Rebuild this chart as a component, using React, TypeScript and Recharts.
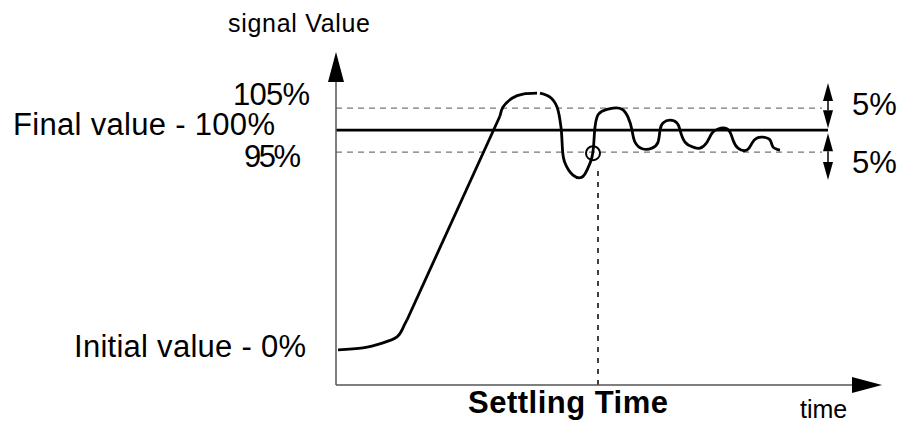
import { Line, LineChart, ReferenceDot, ReferenceLine, XAxis, YAxis } from "recharts"

// time runs 0..546, signal in % of final value (band drawn schematically at +/-10)
const levelTicks = [0, 90, 100, 110]
const levelNames = ["Initial value - 0%", "95%", "Final value - 100%", "105%"]

const bandTop = 110
const finalValue = 100
const bandBottom = 90

const riseStart = [
  { t: 2, v: 0 },
  { t: 27, v: 0.9 },
  { t: 47, v: 3.2 },
  { t: 61, v: 5.9 },
  { t: 67, v: 10 },
  { t: 71, v: 13.6 },
]

const riseRamp = [
  { t: 71, v: 13.6 },
  { t: 164, v: 106.4 },
]

const overshootArc = [
  { t: 164, v: 106.4 },
  { t: 167, v: 110.5 },
  { t: 176, v: 114.5 },
  { t: 187, v: 116.4 },
  { t: 201, v: 116.8 },
]

const ringing = [
  { t: 204, v: 116.8 },
  { t: 214, v: 115 },
  { t: 221, v: 110.5 },
  { t: 224, v: 104.5 },
  { t: 225.5, v: 99 },
  { t: 226.5, v: 91 },
  { t: 229, v: 85 },
  { t: 237, v: 79.5 },
  { t: 246, v: 78.6 },
  { t: 251, v: 81.8 },
  { t: 256, v: 87.7 },
  { t: 258, v: 95.5 },
  { t: 259, v: 101.4 },
  { t: 261, v: 105.9 },
  { t: 266, v: 108.6 },
  { t: 277, v: 110 },
  { t: 286, v: 109.5 },
  { t: 292, v: 105.9 },
  { t: 296, v: 100 },
  { t: 299, v: 94.5 },
  { t: 307, v: 91.4 },
  { t: 316, v: 91.8 },
  { t: 322, v: 94.5 },
  { t: 324, v: 100 },
  { t: 327, v: 103.2 },
  { t: 334, v: 104.5 },
  { t: 341, v: 103.2 },
  { t: 344, v: 100 },
  { t: 349, v: 94.5 },
  { t: 357, v: 92.3 },
  { t: 364, v: 91.8 },
  { t: 371, v: 94.5 },
  { t: 376, v: 98.6 },
  { t: 382, v: 100.5 },
  { t: 389, v: 100.9 },
  { t: 394, v: 99.1 },
  { t: 397, v: 95.5 },
  { t: 402, v: 91.8 },
  { t: 411, v: 90.9 },
  { t: 416, v: 94.1 },
  { t: 421, v: 96.4 },
  { t: 427, v: 96.8 },
  { t: 434, v: 95.5 },
  { t: 437, v: 92.3 },
  { t: 444, v: 90.9 },
]

const settlingTime = 262
const crossing = { t: 257, v: 89.5 }
const bandEnd = 486
const markerT = 492

const font = "'Liberation Sans', Arial, Helvetica, sans-serif"

// right edge / baseline shift / width for each level label
const tickStyle: Record<number, { right: number; dy: number; len: number }> = {
  0: { right: 306, dy: 7, len: 232 },
  90: { right: 301, dy: 15, len: 57 },
  100: { right: 275, dy: 5, len: 262 },
  110: { right: 310, dy: -3, len: 77 },
}

function levelLabel(value: number) {
  const s = tickStyle[value]
  const name = levelNames[levelTicks.indexOf(value)]
  return (p: any) => (
    <text
      x={s.right}
      y={p.viewBox.y + s.dy}
      textAnchor="end"
      fontFamily={font}
      fontSize={31}
      fill="#000"
      textLength={s.len}
    >
      {name}
    </text>
  )
}

function Arrow(props: any) {
  const { x1, y1, x2, y2, head = 30, half = 8, both = false, color = "#555", width = 1.5 } = props
  const len = Math.hypot(x2 - x1, y2 - y1) || 1
  const ux = (x2 - x1) / len
  const uy = (y2 - y1) / len
  const px = -uy
  const py = ux
  const tri = (tx: number, ty: number, dir: number) => {
    const bx = tx - ux * head * dir
    const by = ty - uy * head * dir
    return `${tx},${ty} ${bx + px * half},${by + py * half} ${bx - px * half},${by - py * half}`
  }
  const sx = both ? x1 + ux * head : x1
  const sy = both ? y1 + uy * head : y1
  return (
    <g>
      <line x1={sx} y1={sy} x2={x2 - ux * head} y2={y2 - uy * head} stroke={color} strokeWidth={width} />
      <polygon points={tri(x2, y2, 1)} fill="#000" />
      {both && <polygon points={tri(x1, y1, -1)} fill="#000" />}
    </g>
  )
}

export default function App() {
  return (
    <div style={{ position: "fixed", left: 0, top: 0, width: 901, height: 423, background: "#fff" }}>
      <LineChart width={901} height={423} margin={{ top: 51, right: 19, bottom: 38, left: 336 }}>
        <XAxis type="number" dataKey="t" domain={[0, 546]} hide />
        <YAxis type="number" domain={[-16, 136]} hide />

        {/* level names sit left of the y axis */}
        {levelTicks.map((v) => (
          <ReferenceLine
            key={v}
            segment={[{ x: 0, y: v }, { x: 1, y: v }]}
            stroke="none"
            ifOverflow="visible"
            label={{ content: levelLabel(v) }}
          />
        ))}

        <ReferenceLine
          segment={[{ x: 0, y: bandTop }, { x: bandEnd, y: bandTop }]}
          stroke="#777"
          strokeWidth={1.2}
          strokeDasharray="6 5"
          ifOverflow="visible"
        />
        <ReferenceLine
          segment={[{ x: 0, y: bandBottom }, { x: bandEnd, y: bandBottom }]}
          stroke="#777"
          strokeWidth={1.2}
          strokeDasharray="6 5"
          ifOverflow="visible"
        />
        <ReferenceLine
          segment={[{ x: 0, y: finalValue }, { x: markerT, y: finalValue }]}
          stroke="#000"
          strokeWidth={2.8}
          ifOverflow="visible"
        />

        <ReferenceLine
          segment={[{ x: settlingTime, y: -16 }, { x: settlingTime, y: 82.7 }]}
          stroke="#000"
          strokeWidth={1.5}
          strokeDasharray="5 6"
          ifOverflow="visible"
          label={{
            content: (p: any) => (
              <text
                x={p.viewBox.x - 30}
                y={p.viewBox.y + p.viewBox.height + 28}
                textAnchor="middle"
                fontFamily={font}
                fontWeight="bold"
                fontSize={31}
                textLength={200}
                fill="#000"
              >
                Settling Time
              </text>
            ),
          }}
        />

        <ReferenceLine
          segment={[{ x: markerT, y: 100.9 }, { x: markerT, y: 121.4 }]}
          ifOverflow="visible"
          shape={(p: any) => <Arrow {...p} head={18} half={5} both color="#000" />}
          label={{
            content: (p: any) => (
              <text x={p.viewBox.x + 24} y={115} fontFamily={font} fontSize={31} fill="#000">
                5%
              </text>
            ),
          }}
        />
        <ReferenceLine
          segment={[{ x: markerT, y: 77.3 }, { x: markerT, y: 98.6 }]}
          ifOverflow="visible"
          shape={(p: any) => <Arrow {...p} head={18} half={5} both color="#000" />}
          label={{
            content: (p: any) => (
              <text x={p.viewBox.x + 24} y={173} fontFamily={font} fontSize={31} fill="#000">
                5%
              </text>
            ),
          }}
        />

        <ReferenceLine
          segment={[{ x: 0, y: -16 }, { x: 0, y: 135.5 }]}
          ifOverflow="visible"
          shape={(p: any) => <Arrow {...p} />}
          label={{
            content: (p: any) => (
              <text
                x={p.viewBox.x - 37}
                y={p.viewBox.y - 20}
                textAnchor="middle"
                fontFamily={font}
                fontSize={25}
                textLength={142}
                fill="#000"
              >
                signal Value
              </text>
            ),
          }}
        />
        <ReferenceLine
          segment={[{ x: 0, y: -16 }, { x: 546, y: -16 }]}
          ifOverflow="visible"
          shape={(p: any) => <Arrow {...p} />}
          label={{
            content: (p: any) => (
              <text
                x={p.viewBox.x + p.viewBox.width - 82}
                y={p.viewBox.y + 33}
                fontFamily={font}
                fontSize={25}
                fill="#000"
              >
                time
              </text>
            ),
          }}
        />

        <Line data={riseStart} dataKey="v" type="natural" stroke="#000" strokeWidth={2.8} dot={false} isAnimationActive={false} />
        <Line data={riseRamp} dataKey="v" type="linear" stroke="#000" strokeWidth={2.8} dot={false} isAnimationActive={false} />
        <Line data={overshootArc} dataKey="v" type="natural" stroke="#000" strokeWidth={2.8} dot={false} isAnimationActive={false} />
        <Line data={ringing} dataKey="v" type="natural" stroke="#000" strokeWidth={2.8} dot={false} isAnimationActive={false} />

        <ReferenceDot x={crossing.t} y={crossing.v} r={7} fill="none" stroke="#000" strokeWidth={2} ifOverflow="visible" />
      </LineChart>
    </div>
  )
}
